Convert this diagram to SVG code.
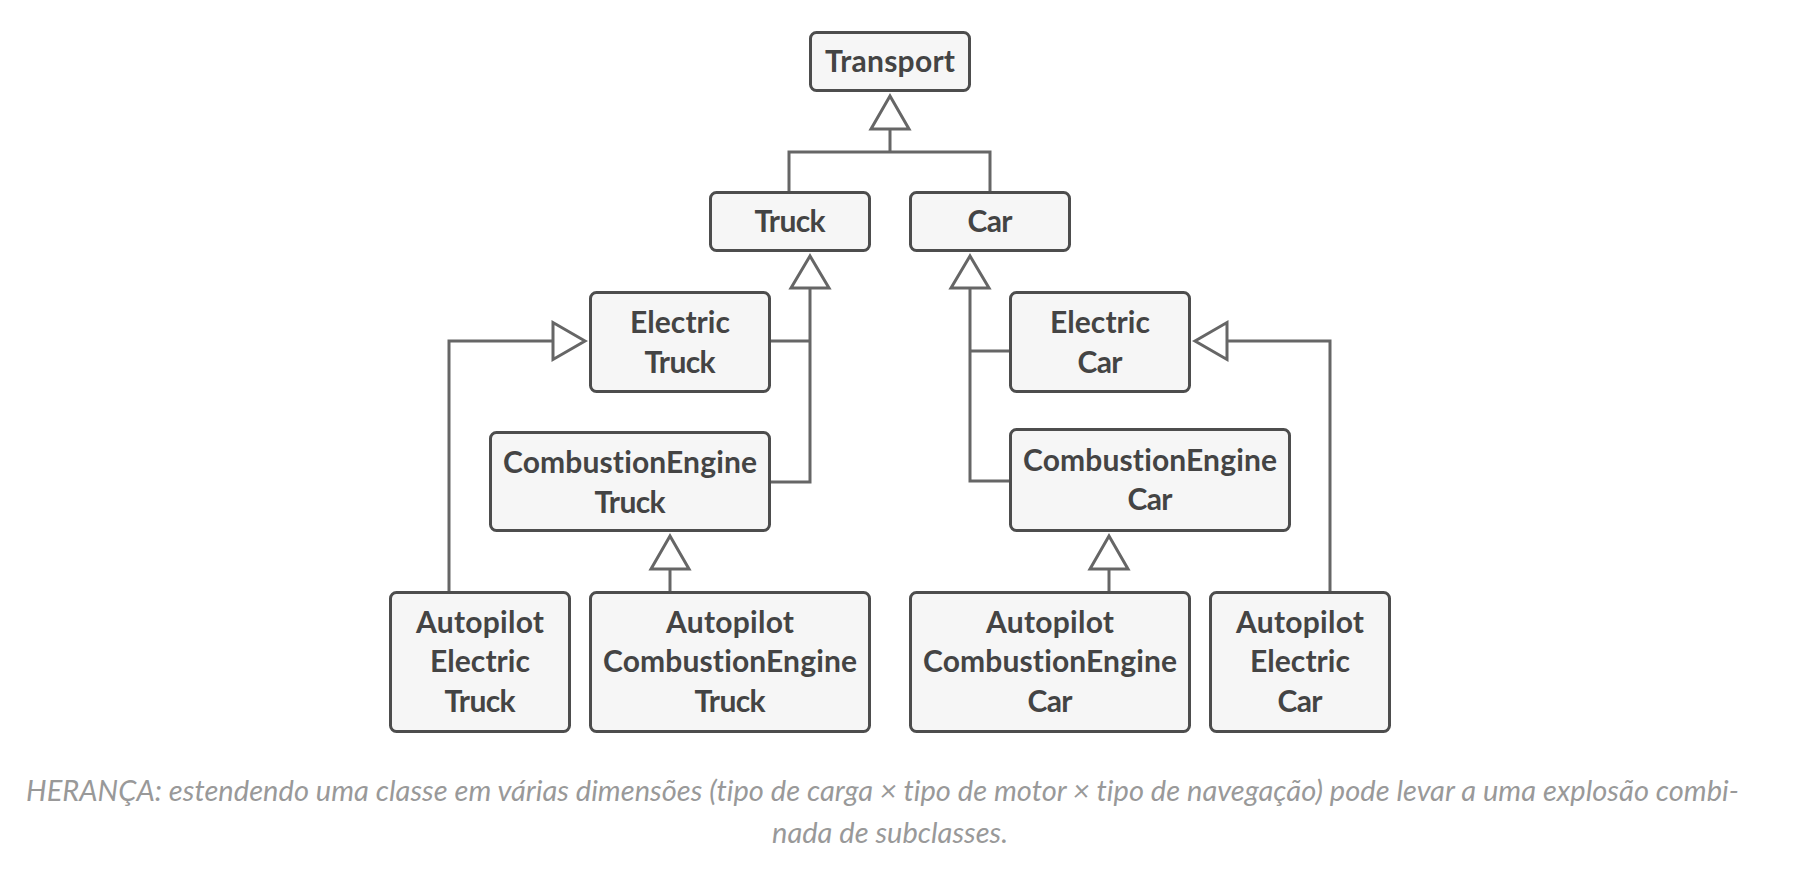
<svg xmlns="http://www.w3.org/2000/svg" width="1796" height="872" viewBox="0 0 1796 872">
<style>
.box{fill:#f6f6f6;stroke:#4d4d4d;stroke-width:3}
.lbl{font-family:Lato,"Noto Sans",sans-serif;font-weight:bold;font-size:30px;fill:#444;text-anchor:middle;font-variant-ligatures:none}
.cap{font-family:Lato,"Noto Sans",sans-serif;font-style:italic;font-size:29px;fill:#999;font-variant-ligatures:none}
.ln{fill:none;stroke:#666;stroke-width:3}
.tri{fill:#fff;stroke:#666;stroke-width:3;stroke-linejoin:miter}
</style>
<rect width="1796" height="872" fill="#fff"/>
<g id="connectors">
<path class="ln" d="M890,129V152M789,191V152H990V191"/>
<polygon class="tri" points="890,96 871,129 909,129"/>
<path class="ln" d="M771,341H810M771,482H810V288"/>
<polygon class="tri" points="810,256 791,288 829,288"/>
<path class="ln" d="M1009,351H970M1009,481H970V288"/>
<polygon class="tri" points="970,256 951,288 989,288"/>
<path class="ln" d="M449,591V341H553"/>
<polygon class="tri" points="585,341 553,322.5 553,359.5"/>
<path class="ln" d="M670,569V591"/>
<polygon class="tri" points="670,536 651,569 689,569"/>
<path class="ln" d="M1109,569V591"/>
<polygon class="tri" points="1109,536 1090,569 1128,569"/>
<path class="ln" d="M1330,591V341H1227"/>
<polygon class="tri" points="1195,341 1227,322.5 1227,359.5"/>
</g>
<g id="transport"><rect class="box" x="810.5" y="32.5" width="159" height="58" rx="6"/><text class="lbl" x="890" y="72" textLength="130">Transport</text></g>
<g id="truck"><rect class="box" x="710.5" y="192.5" width="159" height="58" rx="6"/><text class="lbl" x="790" y="232" textLength="71">Truck</text></g>
<g id="car"><rect class="box" x="910.5" y="192.5" width="159" height="58" rx="6"/><text class="lbl" x="990" y="232" textLength="45">Car</text></g>
<g id="electric-truck"><rect class="box" x="590.5" y="292.5" width="179" height="99" rx="6"/><text class="lbl" x="680" y="333" textLength="100">Electric</text><text class="lbl" x="680" y="373" textLength="71">Truck</text></g>
<g id="combustion-truck"><rect class="box" x="490.5" y="432.5" width="279" height="98" rx="6"/><text class="lbl" x="630" y="473" textLength="254">CombustionEngine</text><text class="lbl" x="630" y="513" textLength="71">Truck</text></g>
<g id="electric-car"><rect class="box" x="1010.5" y="292.5" width="179" height="99" rx="6"/><text class="lbl" x="1100" y="333" textLength="100">Electric</text><text class="lbl" x="1100" y="373" textLength="45">Car</text></g>
<g id="combustion-car"><rect class="box" x="1010.5" y="429.5" width="279" height="101" rx="6"/><text class="lbl" x="1150" y="471" textLength="254">CombustionEngine</text><text class="lbl" x="1150" y="510" textLength="45">Car</text></g>
<g id="autopilot-electric-truck"><rect class="box" x="390.5" y="592.5" width="179" height="139" rx="6"/><text class="lbl" x="480" y="633" textLength="128">Autopilot</text><text class="lbl" x="480" y="672" textLength="100">Electric</text><text class="lbl" x="480" y="712" textLength="71">Truck</text></g>
<g id="autopilot-combustion-truck"><rect class="box" x="590.5" y="592.5" width="279" height="139" rx="6"/><text class="lbl" x="730" y="633" textLength="128">Autopilot</text><text class="lbl" x="730" y="672" textLength="254">CombustionEngine</text><text class="lbl" x="730" y="712" textLength="71">Truck</text></g>
<g id="autopilot-combustion-car"><rect class="box" x="910.5" y="592.5" width="279" height="139" rx="6"/><text class="lbl" x="1050" y="633" textLength="128">Autopilot</text><text class="lbl" x="1050" y="672" textLength="254">CombustionEngine</text><text class="lbl" x="1050" y="712" textLength="45">Car</text></g>
<g id="autopilot-electric-car"><rect class="box" x="1210.5" y="592.5" width="179" height="139" rx="6"/><text class="lbl" x="1300" y="633" textLength="128">Autopilot</text><text class="lbl" x="1300" y="672" textLength="100">Electric</text><text class="lbl" x="1300" y="712" textLength="45">Car</text></g>
<g id="caption">
<text class="cap" x="26" y="801" textLength="1713">HERANÇA: estendendo uma classe em várias dimensões (tipo de carga × tipo de motor × tipo de navegação) pode levar a uma explosão combi-</text>
<text class="cap" x="772" y="843" textLength="236">nada de subclasses.</text>
</g>
</svg>
